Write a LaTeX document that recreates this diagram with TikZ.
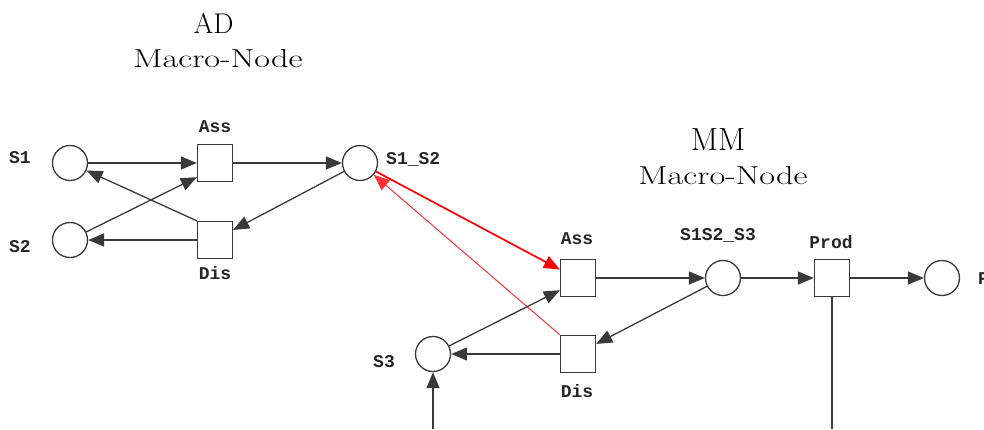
\documentclass[tikz,border=0pt]{standalone}
\usepackage{fontspec}
\newfontfamily\labelfont{Liberation Mono}
\newfontfamily\widefont[FakeStretch=1.32]{Latin Modern Roman}
\usetikzlibrary{arrows.meta}
\definecolor{edgegray}{HTML}{3A3A3A}
\tikzset{
  place/.style={circle,draw=edgegray,line width=1.3pt,minimum size=35pt,inner sep=0pt,fill=white},
  trans/.style={rectangle,draw=edgegray,line width=1.3pt,minimum width=35pt,minimum height=37pt,inner sep=0pt,fill=white},
  lbl/.style={font=\labelfont\bfseries\fontsize{18}{20}\selectfont,text=black!85,inner sep=0pt},
  adtitle/.style={font=\fontsize{28.5}{32}\selectfont,inner sep=0pt},
  mmtitle/.style={font=\fontsize{32}{36}\selectfont,inner sep=0pt},
  subtitle/.style={font=\widefont\fontsize{26}{30}\selectfont,inner sep=0pt},
  arc/.style={draw=edgegray,line width=1.3pt,-{Triangle[length=16pt,width=13pt]}},
  plainarc/.style={draw=edgegray,line width=1.3pt},
  redarc/.style={draw=red,line width=1.7pt,-{Triangle[length=16pt,width=13pt]}},
  redthin/.style={draw=red!80,line width=1pt,-{Triangle[length=16pt,width=13pt]}}
}
\begin{document}
\begin{tikzpicture}[x=1pt,y=-1pt]
\useasboundingbox (0,0) rectangle (984,429);

% AD macro-node
\node[adtitle] (adtitle) at (213.5,23.5) {AD};
\node[subtitle] (adsub) at (218,59) {Macro-Node};
\node[place] (S1) at (70,163) {};
\node[place] (S2) at (70,240) {};
\node[trans] (adass) at (215,163) {};
\node[trans] (addis) at (215,240) {};
\node[place] (S1S2) at (360,163) {};
\node[lbl] (lS1) at (20,158) {S1};
\node[lbl] (lS2) at (20,247) {S2};
\node[lbl] (ladass) at (215,127) {Ass};
\node[lbl] (laddis) at (215,273) {Dis};
\node[lbl,anchor=west] (lS1S2) at (386,159) {S1\_S2};

% MM macro-node
\node[mmtitle] (mmtitle) at (718,140) {MM};
\node[subtitle] (mmsub) at (723,175.5) {Macro-Node};
\node[trans] (mmass) at (578,278) {};
\node[trans] (mmdis) at (578,354) {};
\node[place] (S3) at (433,354) {};
\node[place] (S1S2S3) at (723,278) {};
\node[trans] (prod) at (832,278) {};
\node[place] (P) at (942,278) {};
\node[lbl] (lmmass) at (577,239) {Ass};
\node[lbl] (lmmdis) at (577,391) {Dis};
\node[lbl] (lS3) at (384,362) {S3};
\node[lbl] (lS1S2S3) at (718,235) {S1S2\_S3};
\node[lbl] (lprod) at (831,242) {Prod};
\node[lbl,anchor=west] (lP) at (978,279) {P};

\coordinate (s3in) at (433,429);
\coordinate (prodout) at (832,429);

% AD arcs
\draw[arc] (S1) -- (adass);
\draw[arc] (adass) -- (S1S2);
\draw[arc] (S1S2) -- (addis.29);
\draw[arc] (addis.north west) -- (S1);
\draw[arc] (S2) -- (adass.218);
\draw[arc] (addis) -- (S2);

% links between the macro-nodes
\draw[redarc] (S1S2) -- (mmass.155);
\draw[redthin] (mmdis.north west) -- (S1S2);

% MM arcs
\draw[arc] (S3) -- (mmass.214);
\draw[arc] (mmass) -- (S1S2S3);
\draw[arc] (S1S2S3) -- (mmdis.29);
\draw[arc] (mmdis) -- (S3);
\draw[arc] (S1S2S3) -- (prod);
\draw[arc] (prod) -- (P);
\draw[plainarc] (prod) -- (prodout);
\draw[arc] (s3in) -- (S3);
\end{tikzpicture}
\end{document}
